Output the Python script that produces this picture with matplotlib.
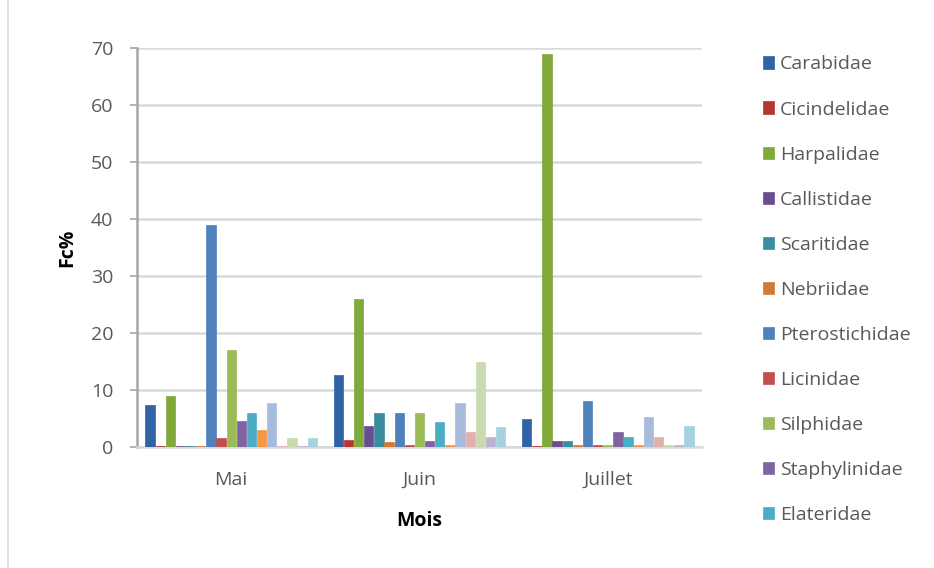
import numpy as np
import matplotlib.pyplot as plt
from matplotlib.patches import Rectangle

mois = ["Mai", "Juin", "Juillet"]

# first 11 families are shown in the legend, the last 6 series are unnamed in the picture
familles = ["Carabidae", "Cicindelidae", "Harpalidae", "Callistidae", "Scaritidae",
            "Nebriidae", "Pterostichidae", "Licinidae", "Silphidae", "Staphylinidae",
            "Elateridae", "_s12", "_s13", "_s14", "_s15", "_s16", "_s17"]

carabidae = [7.3, 12.7, 5.0]
cicindelidae = [0.2, 1.3, 0.2]
harpalidae = [9.0, 26.0, 69.0]
callistidae = [0.2, 3.6, 1.0]
scaritidae = [0.2, 6.0, 1.0]
nebriidae = [0.2, 0.8, 0.3]
pterostichidae = [39.0, 6.0, 8.1]
licinidae = [1.5, 0.3, 0.3]
silphidae = [17.0, 6.0, 0.3]
staphylinidae = [4.5, 1.0, 2.7]
elateridae = [6.0, 4.3, 1.8]
s12 = [3.0, 0.3, 0.3]
s13 = [7.7, 7.8, 5.3]
s14 = [0.2, 2.6, 1.8]
s15 = [1.5, 15.0, 0.3]
s16 = [0.2, 1.7, 0.3]
s17 = [1.5, 3.5, 3.6]

valeurs = [carabidae, cicindelidae, harpalidae, callistidae, scaritidae, nebriidae,
           pterostichidae, licinidae, silphidae, staphylinidae, elateridae,
           s12, s13, s14, s15, s16, s17]

couleurs = ["#2F63A6", "#B5352F", "#80A93B", "#6A4D8C", "#3A8C9E", "#D07A35",
            "#4F81BD", "#C0504D", "#9BBB59", "#8064A2", "#4BACC6", "#F79646",
            "#A7BBDC", "#E3AFAD", "#C9DAAE", "#BDB0D0", "#A6D2DF"]

plt.rcParams['font.family'] = ['Open Sans', 'DejaVu Sans']
gris = "#595959"

fig = plt.figure(figsize=(9.34, 5.68), dpi=100)
ax = fig.add_axes([137/934, 1-447/568, (702-137)/934, (447-48)/568])

n = len(valeurs)
x = np.arange(len(mois))
slot = 0.915 / n
for i in range(n):
    pos = x - 0.915/2 + slot*(i+0.5)
    ax.bar(pos, valeurs[i], width=slot*0.92, color=couleurs[i], label=familles[i],
           edgecolor=couleurs[i], linewidth=0.5, zorder=3)

ax.set_xlim(-0.5, 2.5)
ax.set_ylim(0, 70)
ax.set_yticks(range(0, 71, 10))
ax.set_xticks(x)
ax.set_xticklabels(mois)
ax.grid(axis='y', color="#D9D9D9", linewidth=1.8, zorder=0)
for s in ["top", "right"]:
    ax.spines[s].set_visible(False)
ax.spines["left"].set_color("#A6A6A6")
ax.spines["left"].set_linewidth(1.8)
ax.spines["bottom"].set_color("#D9D9D9")
ax.spines["bottom"].set_linewidth(1.8)
ax.tick_params(axis='y', colors="#A6A6A6", labelcolor=gris, labelsize=14, length=5, width=1.2, pad=12)
ax.tick_params(axis='x', length=0, labelcolor=gris, labelsize=14, pad=17)

ax.set_ylabel("Fc%", fontsize=14, fontweight='bold', color="black", labelpad=10)
ax.set_xlabel("Mois", fontsize=14, fontweight='bold', color="black", labelpad=16)

h, l = ax.get_legend_handles_labels()
leg = fig.legend(h[:11], l[:11], loc='upper left', bbox_to_anchor=(745/934, 1-38/568),
                 frameon=False, fontsize=14, labelcolor=gris, handlelength=0.6,
                 handleheight=0.6, handletextpad=0.3, labelspacing=1.39)

# light chart border
fig.patches.append(Rectangle((8/934, -0.01), 1.0, 1.02, transform=fig.transFigure,
                             fill=False, edgecolor="#D9D9D9", linewidth=1.2))

fig.savefig("out.png", dpi=100)
